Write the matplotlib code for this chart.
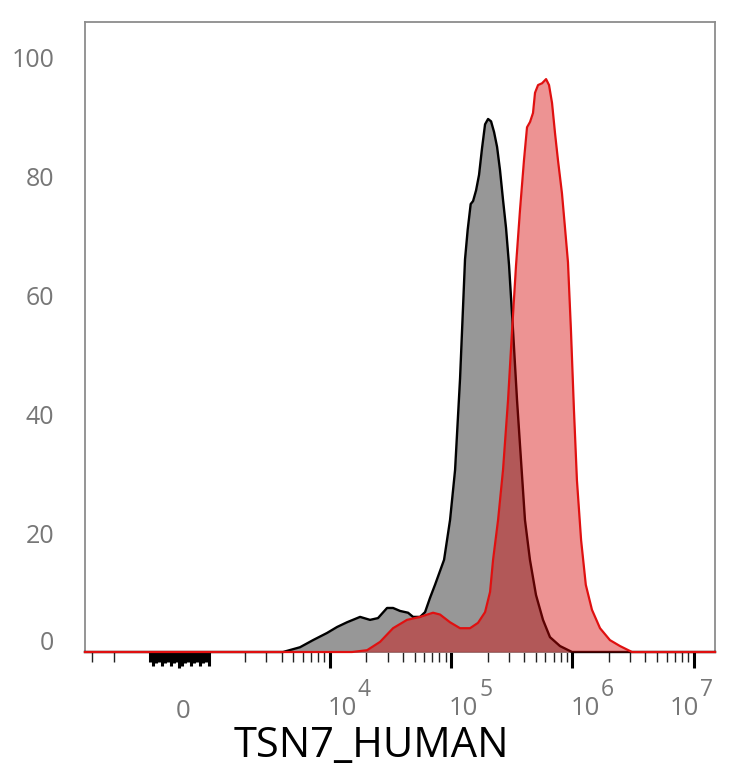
import matplotlib
matplotlib.use('Agg')
import matplotlib.pyplot as plt
from matplotlib import markers
from matplotlib.transforms import ScaledTranslation

# 荧光强度 (TSN7_HUMAN) 与 % of max
gray_x = [-3444, 4110, 5675, 7270, 9480, 11460, 13860, 17750, 21450, 24950,
          29620, 33200, 37920, 44150, 48550, 55450, 60960, 66990, 73670, 87470,
          98000, 107800, 118500, 130200, 137000, 145000, 151700, 160600, 169900, 179900,
          190500, 201700, 213500, 226000, 239300, 253000, 267900, 283600, 300400, 323900,
          349400, 376800, 406400, 446700, 500900, 572400, 653400, 790400, 993000, 1.5e7]
gray_y = [0, 0, 0.8, 2.0, 3.2, 4.2, 5.0, 5.9, 5.4, 5.7,
          7.4, 7.4, 6.9, 6.6, 5.9, 5.9, 6.7, 9.1, 11.3, 15.5,
          22.2, 30.6, 46.0, 66.0, 71.0, 75.3, 75.8, 77.6, 80.2, 84.7,
          88.7, 89.6, 89.2, 87.4, 84.9, 81.0, 76.0, 71.3, 65.0, 54.1,
          42.4, 32.3, 22.2, 15.5, 9.6, 5.4, 2.5, 1.0, 0, 0]

red_x = [-3444, 15240, 20270, 25940, 33200, 43260, 55450, 70930, 80940, 97900,
         118400, 143200, 166700, 190500, 209500, 221800, 243900, 267900, 294800, 318200,
         343000, 369900, 399000, 422600, 447600, 473400, 491900, 521000, 562300, 606800,
         641800, 679400, 719200, 760300, 820500, 868300, 919700, 973000, 1.03e6, 1.09e6,
         1.18e6, 1.29e6, 1.45e6, 1.69e6, 2.04e6, 2.47e6, 3.10e6, 1.5e7]
red_y = [0, 0, 0.3, 1.7, 4.0, 5.4, 5.9, 6.6, 6.3, 5.0,
         4.0, 4.0, 4.9, 6.7, 10.1, 15.5, 22.2, 30.6, 42.4, 54.1,
         65.0, 74.3, 82.7, 88.2, 89.1, 90.6, 94.0, 95.3, 95.6, 96.3,
         95.3, 92.3, 87.2, 82.7, 77.1, 71.4, 65.5, 54.1, 40.7, 28.9,
         18.8, 11.3, 7.1, 4.0, 2.0, 1.0, 0, 0]

y_ticks = [0, 20, 40, 60, 80, 100]
x_decades = [1e4, 1e5, 1e6, 1e7]
x_exps = ['4', '5', '6', '7']
x_title = 'TSN7_HUMAN'

plt.rcParams['font.family'] = ['Open Sans', 'DejaVu Sans']
fig = plt.figure(figsize=(7.34, 7.68), dpi=100)
ax = fig.add_axes([85 / 734, 116 / 768, 630 / 734, 630 / 768])

ax.set_xscale('symlog', linthresh=1000, linscale=0.217, base=10)
ax.set_xlim(-3444, 1.5e7)
ax.set_ylim(0, 105.9)

# 直方图
ax.fill_between(gray_x, gray_y, color='#979797', lw=0, zorder=2)
ax.plot(gray_x, gray_y, color='black', lw=1.7, zorder=3, clip_on=False)
ax.fill_between(red_x, red_y, color='#d70505', alpha=0.43, lw=0, zorder=4)
ax.plot(red_x, red_y, color='#e01010', lw=1.6, zorder=5, clip_on=False)

# 坐标轴刻度
minor = [-3000, -2000]
for k in range(3, 7):
    minor += [m * 10 ** k for m in range(2, 10)]
ax.set_xticks([0] + x_decades)
ax.set_xticks(minor, minor=True)
ax.tick_params(axis='x', which='major', length=11.5, width=2.2, color='black', labelbottom=False)
ax.tick_params(axis='x', which='minor', length=7, width=1.0, color='#222222')

# 0 附近的密集刻度 (-1000..1000)
cluster = [v for v in range(-1000, 1001, 100) if v != 0]
trans = ax.get_xaxis_transform()
for j, sz in enumerate([7, 10, 8]):
    ax.plot(cluster[j::3], [0] * len(cluster[j::3]), transform=trans, ls='none',
            marker=markers.TICKDOWN, ms=sz, mew=2.2, color='black', clip_on=False, zorder=1)

ax.set_yticks(y_ticks)
ax.tick_params(axis='y', length=0, pad=22, labelsize=18, labelcolor='#777777')
t0 = ax.yaxis.get_major_ticks()[0].label1
t0.set_transform(t0.get_transform() + ScaledTranslation(0, 11 / 100, fig.dpi_scale_trans))

for s in ax.spines.values():
    s.set_color('#8c8c8c')
    s.set_linewidth(1.3)

# x 轴标签: 0, 10^4 ... 10^7
px = 0.72
ax.annotate('0', xy=(0, 0), xycoords=('data', 'axes fraction'), xytext=(3.5 * px, -59 * px),
            textcoords='offset points', ha='center', va='center', fontsize=18.5, color='#777777')
for val, e in zip(x_decades, x_exps):
    dx = -24 if e == '7' else -2
    ax.annotate('10', xy=(val, 0), xycoords=('data', 'axes fraction'), xytext=(dx * px, -56.5 * px),
                textcoords='offset points', ha='left', va='center', fontsize=18.5, color='#777777')
    ax.annotate(e, xy=(val, 0), xycoords=('data', 'axes fraction'), xytext=((dx + 30) * px, -37.5 * px),
                textcoords='offset points', ha='left', va='center', fontsize=16.5, color='#777777')

fig.text(371 / 734, 1 - 746 / 768, x_title, ha='center', va='center', fontsize=30, color='black')

plt.savefig('out.png', dpi=100)
